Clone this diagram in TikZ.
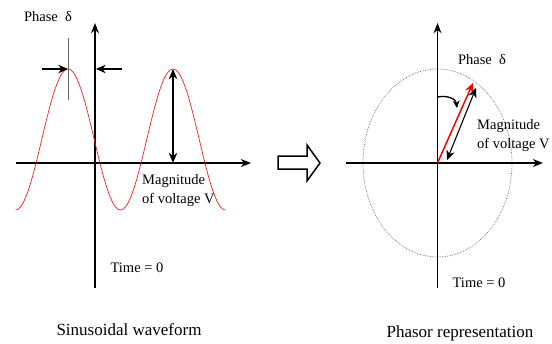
\documentclass[tikz,border=0pt]{standalone}
\usepackage{fontspec}
\setmainfont{Liberation Serif}
\usetikzlibrary{arrows.meta}
\definecolor{wavered}{HTML}{F02020}
\definecolor{dotgray}{HTML}{707070}
\tikzset{
    lab/.style={
        font=\fontsize{14.5}{19}\selectfont, inner sep=0pt
    },
    captxt/.style={
        font=\fontsize{17}{20}\selectfont, inner sep=0pt
    },
    axis/.style={
        line width=1.3pt, -{Stealth[length=3.6mm,width=2.8mm]}
    }
}
\begin{document}
\begin{tikzpicture}[x=1pt,y=-1pt,line cap=butt,line join=miter]
\useasboundingbox (0,0) rectangle (552,343);

% ---------- sinusoidal waveform ----------
\coordinate (lx0) at (16,163);
\coordinate (lx1) at (251,163);
\coordinate (ly0) at (95,288);
\coordinate (ly1) at (95,23);
\draw[axis] (lx0) -- (lx1);
\draw[axis] (ly0) -- (ly1);

% the wave, two full periods between troughs (period 105)
\draw[wavered, line width=0.7pt] plot[domain=15.5:225.5, samples=120]
  (\x, {139.5-70.5*cos(3.428571*(\x-68))});

% phase marker
\coordinate (pk) at (68,69);
\coordinate (pktop) at (68,38);
\coordinate (pkbot) at (68,100);
\draw[line width=0.9pt, gray!80!black] (pktop) -- (pkbot);
\coordinate (pl) at (42,69);
\coordinate (pr) at (122,69);
\coordinate (pa) at (96,69);
\draw[line width=1.1pt, -{Stealth[length=3.4mm,width=3mm]}] (pl) -- (pk);
\draw[line width=1.1pt, -{Stealth[length=3.4mm,width=3mm]}] (pr) -- (pa);

% magnitude
\coordinate (mtop) at (173,69);
\coordinate (mbot) at (173,163);
\draw[line width=1.3pt, {Stealth[length=3.6mm,width=3mm]}-{Stealth[length=3.6mm,width=3mm]}] (mtop) -- (mbot);

\node[lab] (lphase) at (48,17) {Phase\enspace δ};
\node[lab, anchor=north west, align=left] (lmag) at (142,174) {Magnitude\\of voltage V};
\node[lab] (ltime) at (137,268) {Time = 0};
\node[captxt] (lcap) at (129,330) {Sinusoidal waveform};

% ---------- hollow arrow ----------
\draw[line width=1.5pt] (278,156) -- (307,156) -- (307,145) -- (320,163)
  -- (307,181) -- (307,169) -- (278,169) -- cycle;

% ---------- phasor representation ----------
\coordinate (o) at (437.5,163);
\coordinate (rx0) at (346,163);
\coordinate (rx1) at (543,163);
\coordinate (ry0) at (437.5,288);
\coordinate (ry1) at (437.5,23);
\draw[dotgray, densely dotted, line width=0.7pt] (o) ellipse[x radius=74.5, y radius=94];
\draw[axis] (rx0) -- (rx1);
\draw[axis] (ry0) -- (ry1);

% the phasor and its length
\coordinate (vtip) at (473,83);
\draw[red, line width=1.5pt, -{Stealth[length=3.4mm,width=3mm]}] (o) -- (vtip);
\coordinate (m0) at (447,160);
\coordinate (m1) at (476,88);
\draw[line width=1.1pt, {Stealth[length=3.4mm,width=3mm]}-{Stealth[length=3.4mm,width=3mm]}] (m0) -- (m1);

% phase angle
\coordinate (a0) at (437.5,97);
\coordinate (a1) at (457,108);
\draw[line width=1.3pt, -{Stealth[length=2.6mm,width=2.4mm]}] (a0) .. controls (448,95) and (456,99) .. (a1);

\node[lab] (rphase) at (482,60) {Phase\enspace δ};
\node[lab, anchor=north west, align=left] (rmag) at (477,119) {Magnitude\\of voltage V};
\node[lab] (rtime) at (479,283) {Time = 0};
\node[captxt] (rcap) at (460,333) {Phasor representation};

\end{tikzpicture}
\end{document}
